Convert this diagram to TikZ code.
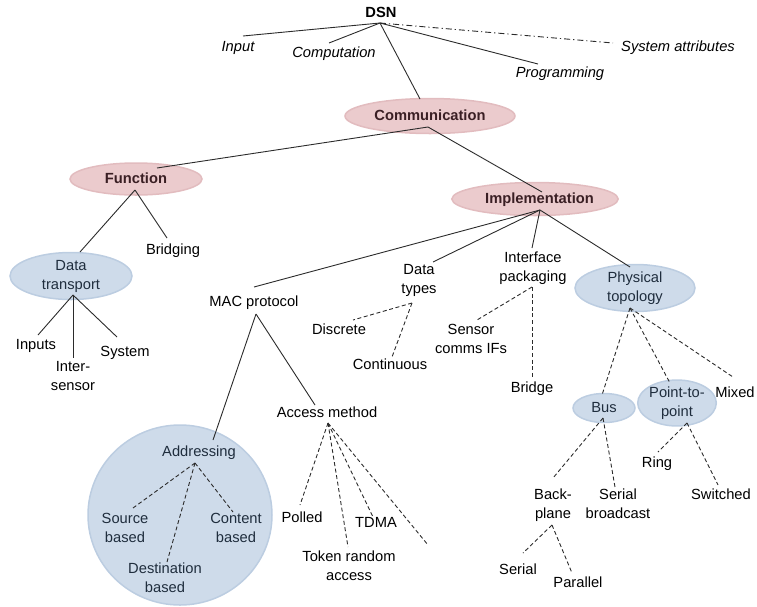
\documentclass[tikz,border=0pt]{standalone}
\usepackage{fontspec}
\setmainfont{Liberation Sans}
\usetikzlibrary{shapes.geometric}
\definecolor{pinkfill}{HTML}{EBCBCD}
\definecolor{pinkdraw}{HTML}{E2BCBF}
\definecolor{pinktext}{HTML}{3A1F24}
\definecolor{bluefill}{HTML}{CEDBEA}
\definecolor{bluedraw}{HTML}{BCCDE1}
\definecolor{bluetext}{HTML}{1F2D3D}
\definecolor{linec}{HTML}{2B2B2B}
\begin{document}
\begin{tikzpicture}[x=1pt,y=-1pt,
  every node/.style={font=\fontsize{14.7}{18.5}\selectfont, align=center, inner sep=0pt, text height=11pt, text depth=3pt},
  ml/.style={text height=29.5pt, text depth=3pt},
  itl/.style={font=\fontsize{14.7}{18.5}\selectfont\itshape},
  pinkell/.style={ellipse, fill=pinkfill, draw=pinkdraw, line width=1.5pt, font=\fontsize{14.7}{18.5}\selectfont\bfseries, text=pinktext},
  blueell/.style={ellipse, fill=bluefill, draw=bluedraw, line width=1.5pt, text=bluetext},
  solidln/.style={draw=linec, line width=0.9pt},
  dashln/.style={draw=linec, line width=0.9pt, dash pattern=on 4pt off 2.6pt},
  dotdashln/.style={draw=linec, line width=0.9pt, dash pattern=on 6pt off 3pt on 1.2pt off 3pt},
]
\useasboundingbox (0,0) rectangle (757,606);

% ---- ellipses ----
\node[pinkell, minimum width=170pt, minimum height=35pt] (comm) at (430,116) {Communication};
\node[pinkell, minimum width=132pt, minimum height=32pt] (func) at (136,179) {Function};
\node[pinkell, minimum width=152pt, minimum height=33pt] (impl) at (535,199) {\hspace*{9pt}Implementation};
\node[blueell, ml, minimum width=122pt, minimum height=47pt] (datatr) at (71,276) {Data\\transport};
\node[blueell, ml, minimum width=120pt, minimum height=47pt] (phys) at (635,288) {Physical\\topology};
\node[blueell, minimum width=62pt, minimum height=29pt] (bus) at (604,408) {Bus};
\node[blueell, ml, minimum width=77pt, minimum height=40pt] (p2p) at (677,403) {Point-to-\\point};
\node[blueell, minimum width=184pt, minimum height=180pt] (addrcirc) at (180,515) {};

% ---- text nodes ----
\node (dsn) at (381,13) {\bfseries DSN};
\node[itl] (input) at (238,47) {Input};
\node[itl] (comp) at (334,53) {Computation};
\node[itl] (prog) at (560,73) {Programming};
\node[itl] (sysattr) at (678,47) {System attributes};
\node (bridging) at (173,250) {Bridging};
\node (inputs) at (36,345) {Inputs};
\node[ml] (intersensor) at (73,377) {Inter-\\sensor};
\node (system) at (125,352) {System};
\node (mac) at (254,302) {MAC protocol};
\node[ml] (datatypes) at (419,280) {Data\\types};
\node (discrete) at (339,330) {Discrete};
\node (continuous) at (390,365) {Continuous};
\node[ml] (iface) at (533,268) {Interface\\packaging};
\node[ml] (sensor) at (471,340) {Sensor\\comms IFs};
\node (bridge) at (532,388) {Bridge};
\node (mixed) at (735,393) {Mixed};
\node[ml] (backplane) at (553,505) {Back-\\plane};
\node[ml] (serialbc) at (618,505) {Serial\\broadcast};
\node (ring) at (657,463) {Ring};
\node (switched) at (721,495) {Switched};
\node (serial) at (518,570) {Serial};
\node (parallel) at (578,583) {Parallel};
\node[text=bluetext] (addressing) at (199,452) {Addressing};
\node[ml, text=bluetext] (source) at (125,529) {Source\\based};
\node[ml, text=bluetext] (content) at (236,529) {Content\\based};
\node[ml, text=bluetext] (dest) at (165,579) {Destination\\based};
\node (access) at (327,413) {Access method};
\node (polled) at (302,518) {Polled};
\node (tdma) at (376,523) {TDMA};
\node[ml] (token) at (349,567) {Token random\\access};

% ---- junction / end coordinates ----
\coordinate (dsnj) at (380,23);
\coordinate (input-e) at (243,36);
\coordinate (comp-e) at (329,43);
\coordinate (prog-e) at (538,64);
\coordinate (sys-e) at (613,43);
\coordinate (comm-t) at (420,99);
\coordinate (commj) at (428,127);
\coordinate (func-e) at (157,168);
\coordinate (impl-e) at (542,192);
\coordinate (funcj) at (135,190);
\coordinate (datatr-e) at (80,252);
\coordinate (bridging-e) at (167,238);
\coordinate (datatrj) at (73,295);
\coordinate (inputs-e) at (38,335);
\coordinate (inter-e) at (73,358);
\coordinate (system-e) at (117,337);
\coordinate (implj) at (540,210);
\coordinate (mac-e) at (254,287);
\coordinate (dt-e) at (433,262);
\coordinate (if-e) at (532,248);
\coordinate (phys-e) at (630,267);
\coordinate (dtj) at (412,303);
\coordinate (disc-e) at (353,320);
\coordinate (cont-e) at (392,357);
\coordinate (ifj) at (532,287);
\coordinate (sens-e) at (477,320);
\coordinate (bridge-e) at (532,377);
\coordinate (physj) at (630,308);
\coordinate (bus-e) at (602,395);
\coordinate (p2p-e) at (670,383);
\coordinate (mixed-e) at (733,377);
\coordinate (busj) at (603,418);
\coordinate (bp-e) at (553,478);
\coordinate (sbc-e) at (615,487);
\coordinate (p2pj) at (687,423);
\coordinate (ring-e) at (658,452);
\coordinate (sw-e) at (718,485);
\coordinate (bpj) at (552,525);
\coordinate (serial-e) at (523,553);
\coordinate (par-e) at (572,573);
\coordinate (macj) at (256,314);
\coordinate (addr-e) at (213,440);
\coordinate (acc-e) at (315,405);
\coordinate (addrj) at (195,463);
\coordinate (src-e) at (133,508);
\coordinate (dest-e) at (167,562);
\coordinate (cont2-e) at (233,512);
\coordinate (accj) at (328,423);
\coordinate (poll-e) at (300,505);
\coordinate (tok-e) at (348,547);
\coordinate (tdma-e) at (373,517);
\coordinate (extra-e) at (428,545);

% ---- connectors ----
\draw[solidln] (dsnj) -- (input-e);
\draw[solidln] (dsnj) -- (comp-e);
\draw[solidln] (dsnj) -- (prog-e);
\draw[dotdashln] (dsnj) -- (sys-e);
\draw[solidln] (dsnj) -- (comm-t);
\draw[solidln] (commj) -- (func-e);
\draw[solidln] (commj) -- (impl-e);
\draw[solidln] (funcj) -- (datatr-e);
\draw[solidln] (funcj) -- (bridging-e);
\draw[solidln] (datatrj) -- (inputs-e);
\draw[solidln] (datatrj) -- (inter-e);
\draw[solidln] (datatrj) -- (system-e);
\draw[solidln] (implj) -- (mac-e);
\draw[solidln] (implj) -- (dt-e);
\draw[solidln] (implj) -- (if-e);
\draw[solidln] (implj) -- (phys-e);
\draw[dashln] (dtj) -- (disc-e);
\draw[dashln] (dtj) -- (cont-e);
\draw[dashln] (ifj) -- (sens-e);
\draw[dashln] (ifj) -- (bridge-e);
\draw[dashln] (physj) -- (bus-e);
\draw[dashln] (physj) -- (p2p-e);
\draw[dashln] (physj) -- (mixed-e);
\draw[dashln] (busj) -- (bp-e);
\draw[dashln] (busj) -- (sbc-e);
\draw[dashln] (p2pj) -- (ring-e);
\draw[dashln] (p2pj) -- (sw-e);
\draw[dashln] (bpj) -- (serial-e);
\draw[dashln] (bpj) -- (par-e);
\draw[solidln] (macj) -- (addr-e);
\draw[solidln] (macj) -- (acc-e);
\draw[dashln] (addrj) -- (src-e);
\draw[dashln] (addrj) -- (dest-e);
\draw[dashln] (addrj) -- (cont2-e);
\draw[dashln] (accj) -- (poll-e);
\draw[dashln] (accj) -- (tok-e);
\draw[dashln] (accj) -- (tdma-e);
\draw[dashln] (accj) -- (extra-e);
\end{tikzpicture}
\end{document}
